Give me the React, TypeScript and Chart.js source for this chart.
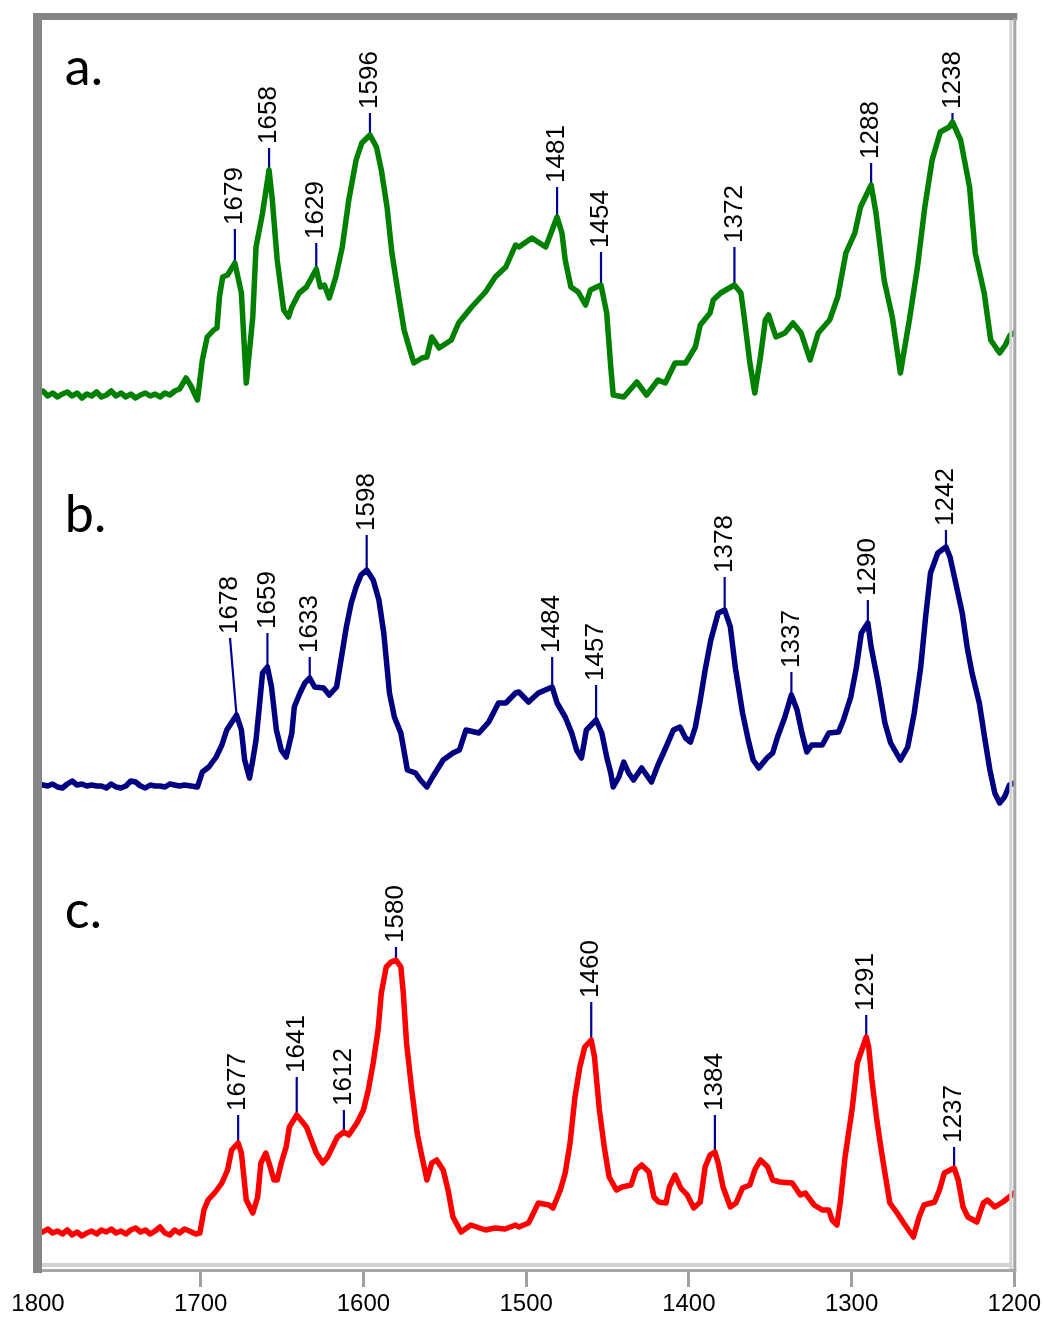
import React, { useEffect, useRef } from "react";
import { Chart, registerables } from "chart.js";

Chart.register(...registerables);

// ---------- x axis ----------
const X_MIN = 1200;
const X_MAX = 1800;
const X_STEP = 100;

// ---------- spectrum a (green) : wavenumber / plotted height ----------
const aWn = [
  1800, 1797, 1794, 1791, 1788, 1785, 1782, 1779, 1776, 1773,
  1770, 1767, 1764, 1761, 1758, 1755, 1752, 1749, 1746, 1743,
  1740, 1737, 1734, 1731, 1728, 1725, 1722, 1719, 1716, 1713,
  1709, 1706, 1702, 1699, 1696, 1692, 1690, 1688.5, 1686.5, 1683.5,
  1679, 1675, 1672, 1668, 1666, 1662, 1658, 1656, 1653, 1649,
  1646, 1644, 1639.5, 1635, 1629, 1626.5, 1624, 1621, 1617, 1613,
  1609, 1604.5, 1601, 1596, 1592, 1589, 1585.5, 1582.5, 1578, 1575,
  1572, 1569, 1564, 1561, 1558, 1553.5, 1546, 1541.5, 1533.5, 1525,
  1519, 1512.5, 1506.5, 1504.5, 1496.5, 1488, 1481, 1478, 1476, 1472.5,
  1468, 1463.5, 1460.5, 1454, 1450.5, 1448, 1446.5, 1440, 1432, 1426,
  1419, 1414.5, 1408.5, 1402, 1396, 1393, 1387, 1385, 1380.5, 1372,
  1368, 1366, 1362.5, 1359.5, 1356, 1353, 1351, 1346.5, 1341, 1336,
  1331, 1325.5, 1320.5, 1313.5, 1308.5, 1303.5, 1298, 1294.5, 1288, 1285,
  1280, 1275, 1270, 1264.5, 1259.5, 1255, 1250.5, 1245.5, 1240, 1238,
  1233, 1227.5, 1224, 1218.5, 1214.5, 1209, 1205.5, 1202.5, 1200,
];
const aVal = [
  876, 879, 874, 877, 873, 876, 878, 874, 877, 872,
  876, 874, 878, 873, 875, 879, 874, 877, 873, 876,
  872, 875, 877, 874, 876, 873, 877, 875, 879, 881,
  892, 884, 870, 910, 933, 940, 942, 973, 993, 995,
  1007, 977, 887, 953, 1023, 1057, 1100, 1070, 1010, 960,
  953, 963, 977, 983, 1001, 983, 985, 972, 993, 1023,
  1070, 1110, 1127, 1135, 1123, 1100, 1063, 1017, 970, 940,
  923, 907, 912, 913, 933, 922, 930, 947, 963, 978,
  993, 1003, 1025, 1023, 1032, 1023, 1053, 1037, 1010, 983,
  978, 965, 980, 985, 957, 903, 875, 873, 888, 875,
  890, 887, 907, 907, 923, 945, 957, 970, 977, 985,
  977, 953, 907, 877, 913, 950, 955, 933, 937, 947,
  937, 910, 937, 950, 973, 1017, 1037, 1063, 1085, 1057,
  990, 953, 897, 950, 1003, 1063, 1110, 1138, 1143, 1148,
  1130, 1083, 1017, 977, 930, 917, 925, 935, 937,
];

// ---------- spectrum b (navy) ----------
const bWn = [
  1800, 1797, 1794, 1791, 1788, 1785, 1782, 1779, 1776, 1773,
  1770, 1767, 1764, 1761, 1758, 1755, 1752, 1749, 1746, 1743,
  1740, 1737, 1734, 1731, 1728, 1725, 1722, 1719, 1716, 1713,
  1710, 1706, 1702, 1699, 1695, 1690.5, 1687, 1684, 1678, 1675,
  1673, 1670, 1668, 1666, 1664, 1662, 1659, 1656.5, 1653.5, 1650.5,
  1647.5, 1644, 1642.5, 1639, 1636, 1633, 1630, 1624.5, 1621, 1616.5,
  1613.5, 1610.5, 1607.5, 1604.5, 1601.5, 1598, 1594, 1590.5, 1587.5, 1584,
  1581, 1577, 1573, 1568, 1565, 1561, 1557.5, 1551, 1545, 1541,
  1537, 1529, 1523, 1517, 1512.5, 1506.5, 1504.5, 1498.5, 1492.5, 1484,
  1481, 1476, 1472, 1469, 1466, 1463, 1457, 1453.5, 1450.5, 1448,
  1446.5, 1443, 1440, 1437, 1434, 1429, 1423, 1419, 1414, 1409.5,
  1405.5, 1402, 1399, 1396, 1393, 1390, 1386.5, 1382, 1378, 1374.5,
  1371.5, 1367, 1363.5, 1360.5, 1357, 1352, 1348.5, 1345.5, 1341, 1337,
  1333.5, 1330.5, 1327.5, 1324.5, 1318, 1314, 1308, 1305, 1300.5, 1297,
  1294, 1290, 1288, 1284, 1279.5, 1276, 1270, 1265.5, 1261.5, 1257.5,
  1254.5, 1251.5, 1247, 1242, 1239.5, 1236, 1232, 1229, 1226, 1221.5,
  1218, 1215, 1212, 1209, 1206, 1203, 1200,
];
const bVal = [
  486, 485, 484, 486, 483, 482, 486, 489, 485, 486,
  484, 485, 484, 484, 482, 486, 483, 482, 484, 489,
  488, 484, 482, 485, 484, 484, 483, 486, 485, 484,
  485, 484, 483, 498, 503, 513, 525, 540, 555, 540,
  510, 492, 510, 530, 563, 597, 603, 583, 540, 520,
  513, 537, 563, 577, 587, 592, 583, 582, 575, 583,
  613, 643, 667, 683, 695, 700, 690, 670, 637, 577,
  553, 537, 500, 497, 490, 483, 493, 510, 517, 520,
  540, 537, 548, 567, 567, 577, 578, 568, 577, 583,
  567, 553, 537, 520, 512, 540, 550, 537, 513, 497,
  483, 493, 508, 497, 490, 502, 488, 505, 523, 540,
  543, 532, 528, 543, 570, 600, 630, 657, 660, 643,
  603, 557, 530, 510, 502, 512, 517, 533, 553, 575,
  560, 537, 518, 525, 525, 537, 538, 550, 573, 603,
  637, 647, 623, 590, 547, 527, 510, 523, 557, 603,
  653, 697, 717, 723, 713, 687, 657, 623, 597, 567,
  530, 500, 477, 467, 473, 485, 487,
];

// ---------- spectrum c (red) ----------
const cWn = [
  1800, 1797, 1794, 1791, 1788, 1785, 1782, 1779, 1776, 1773,
  1770, 1767, 1764, 1761, 1758, 1755, 1752, 1749, 1746, 1743,
  1740, 1737, 1734, 1731, 1728, 1725, 1722, 1719, 1716, 1713,
  1710, 1707, 1703, 1700.5, 1698, 1695.5, 1691, 1687, 1683.5, 1681,
  1677, 1675, 1672, 1668, 1665, 1663, 1660, 1658, 1655, 1653,
  1650.5, 1647.5, 1645.5, 1641, 1638.5, 1635, 1632, 1629, 1625, 1622,
  1619, 1616, 1612, 1609, 1604, 1600, 1597, 1594, 1591, 1589,
  1586, 1583, 1580, 1577, 1575.5, 1573.5, 1570.5, 1567, 1564, 1561,
  1558, 1555, 1551, 1548, 1545, 1540, 1534, 1525, 1519, 1513,
  1506.5, 1504.5, 1498.5, 1492.5, 1486, 1483.5, 1479, 1476, 1473, 1470,
  1467, 1464, 1460, 1458, 1455, 1452, 1449, 1444.5, 1441, 1435.5,
  1432.5, 1429, 1424.5, 1421.5, 1418.5, 1414, 1412, 1408.5, 1405, 1401,
  1397, 1393, 1390, 1387, 1384, 1382, 1379, 1374.5, 1371, 1367,
  1362.5, 1359.5, 1356, 1351.5, 1348.5, 1344, 1336.5, 1331.5, 1328.5, 1323,
  1318, 1314, 1312, 1309, 1307, 1304, 1299.5, 1296.5, 1291, 1289.5,
  1287.5, 1284.5, 1281.5, 1278.5, 1276.5, 1272, 1268, 1265, 1262, 1258.5,
  1255.5, 1249, 1246, 1243, 1237, 1234.5, 1231.5, 1228.5, 1223, 1219,
  1216.5, 1212, 1207, 1201.5, 1200,
];
const cVal = [
  40, 38, 41, 37, 39, 36, 40, 35, 38, 34,
  37, 39, 36, 40, 38, 41, 37, 39, 36, 40,
  42, 38, 40, 36, 39, 43, 37, 35, 40, 37,
  41, 39, 36, 37, 60, 70, 78, 87, 100, 120,
  127, 117, 70, 57, 73, 107, 117, 107, 90, 90,
  107, 123, 143, 155, 150, 143, 130, 117, 107, 113,
  123, 133, 138, 135, 147, 160, 180, 207, 240, 277,
  303, 308, 310, 303, 277, 227, 183, 137, 113, 90,
  107, 110, 100, 80, 53, 38, 45, 40, 42, 41,
  45, 43, 47, 67, 65, 62, 80, 97, 127, 173,
  203, 223, 230, 213, 160, 123, 93, 80, 83, 85,
  100, 105, 98, 73, 68, 67, 83, 95, 82, 75,
  62, 68, 103, 115, 118, 107, 83, 63, 67, 82,
  85, 100, 110, 103, 90, 88, 87, 75, 77, 65,
  60, 60, 50, 45, 67, 113, 163, 207, 233, 223,
  190, 150, 117, 87, 67, 57, 47, 40, 33, 53,
  65, 68, 80, 97, 102, 90, 63, 53, 48, 67,
  70, 63, 68, 75, 77,
];

// ---------- peak labels (text) and height of the top of each marker line ----------
const peakLabelsA = ["1679", "1658", "1629", "1596", "1481", "1454", "1372", "1288", "1238"];
const peakTopsA = [1041, 1122, 1027, 1157, 1083, 1018, 1023, 1107, 1157];
const peakLabelsB = ["1678", "1659", "1633", "1598", "1484", "1457", "1378", "1337", "1290", "1242"];
const peakTopsB = [632, 637, 613, 735, 613, 585, 693, 598, 670, 740];
const peakLabelsC = ["1677", "1641", "1612", "1580", "1460", "1384", "1291", "1237"];
const peakTopsC = [155, 193, 160, 323, 268, 155, 255, 123];
// labels whose marker line leans to a different wavenumber at its top
const peakLeanB: Record<string, number> = { "1678": 1682 };

// ---------- panel letters ----------
const panelLetters = ["a.", "b.", "c."];
const panelBaselines = [1185, 738, 342];
const panelWn = 1783.5;

const Y_MAX = 1257;

const COLORS = ["#008000", "#000080", "#ff0000"];

function toPoints(wn: number[], val: number[]) {
  return wn.map((w, i) => ({ x: w, y: val[i] }));
}

function interp(wn: number[], val: number[], v: number) {
  for (let i = 0; i < wn.length - 1; i++) {
    const a = wn[i];
    const b = wn[i + 1];
    if ((a >= v && v >= b) || (a <= v && v <= b)) {
      if (a === b) return val[i];
      const t = (v - a) / (b - a);
      return val[i] + t * (val[i + 1] - val[i]);
    }
  }
  return val[val.length - 1];
}

const peakSets = [
  { wn: aWn, val: aVal, labels: peakLabelsA, tops: peakTopsA, lean: {} as Record<string, number> },
  { wn: bWn, val: bVal, labels: peakLabelsB, tops: peakTopsB, lean: peakLeanB },
  { wn: cWn, val: cVal, labels: peakLabelsC, tops: peakTopsC, lean: {} as Record<string, number> },
];

const decor = {
  id: "decor",
  beforeDatasetsDraw(chart: any) {
    const { ctx, scales } = chart;
    const xs = scales.x;
    const ys = scales.y;
    ctx.save();
    peakSets.forEach((set) => {
      set.labels.forEach((lab, i) => {
        const wn = Number(lab);
        const bottom = interp(set.wn, set.val, wn);
        const tWn = set.lean[lab] !== undefined ? set.lean[lab] : wn;
        const x0 = xs.getPixelForValue(wn);
        const y0 = ys.getPixelForValue(bottom);
        const x1 = xs.getPixelForValue(tWn);
        const y1 = ys.getPixelForValue(set.tops[i]);
        ctx.strokeStyle = "#000099";
        ctx.lineWidth = 2.2;
        ctx.beginPath();
        ctx.moveTo(x0, y0);
        ctx.lineTo(x1, y1);
        ctx.stroke();
        ctx.save();
        ctx.translate(x1, y1 - 4);
        ctx.rotate(-Math.PI / 2);
        ctx.font = '26px "Liberation Sans", Arial, sans-serif';
        ctx.textAlign = "left";
        ctx.textBaseline = "middle";
        ctx.fillStyle = "#000000";
        ctx.fillText(lab, 0, 0);
        ctx.restore();
      });
    });
    ctx.restore();
  },
  afterDatasetsDraw(chart: any) {
    const { ctx, scales, chartArea } = chart;
    const xs = scales.x;
    const ys = scales.y;
    const { left, right, top, bottom } = chartArea;
    ctx.save();
    // frame: dark top/left, light + grey right/bottom
    ctx.fillStyle = "#858585";
    ctx.fillRect(left - 5, top, 9, bottom - top + 3);
    ctx.fillRect(left - 5, top, right - left + 8, 7);
    ctx.fillStyle = "#d2d2d2";
    ctx.fillRect(right - 5, top + 7, 3, bottom - top - 7);
    ctx.fillRect(left + 4, bottom - 7, right - left - 6, 4);
    ctx.fillStyle = "#a6a6a6";
    ctx.fillRect(right - 1, top + 5, 3, bottom - top - 2);
    ctx.fillRect(left + 4, bottom - 1, right - left - 2, 3);
    // panel letters
    ctx.fillStyle = "#000000";
    ctx.font = '52px Lato, "Open Sans", sans-serif';
    ctx.textAlign = "left";
    ctx.textBaseline = "alphabetic";
    panelLetters.forEach((t, i) => {
      ctx.fillText(t, xs.getPixelForValue(panelWn), ys.getPixelForValue(panelBaselines[i]));
    });
    ctx.restore();
  },
};

export default function App() {
  const ref = useRef<HTMLCanvasElement | null>(null);

  useEffect(() => {
    document.body.style.margin = "0";
    const canvas = ref.current;
    if (!canvas) return;
    const chart = new Chart(canvas, {
      type: "line",
      data: {
        datasets: [
          { data: toPoints(aWn, aVal), borderColor: COLORS[0], borderWidth: 5.5 },
          { data: toPoints(bWn, bVal), borderColor: COLORS[1], borderWidth: 5.5 },
          { data: toPoints(cWn, cVal), borderColor: COLORS[2], borderWidth: 5.5 },
        ],
      },
      options: {
        responsive: false,
        maintainAspectRatio: false,
        animation: false,
        layout: { padding: { left: 38, right: 29, top: 13, bottom: 0 } },
        elements: {
          point: { radius: 0, hoverRadius: 0 },
          line: { tension: 0, borderJoinStyle: "round", borderCapStyle: "round", fill: false },
        },
        plugins: { legend: { display: false }, tooltip: { enabled: false } },
        events: [],
        scales: {
          x: {
            type: "linear",
            reverse: true,
            min: X_MIN,
            max: X_MAX,
            afterFit: (s: any) => {
              s.height = 48;
            },
            border: { display: false },
            grid: {
              display: true,
              drawOnChartArea: false,
              drawTicks: true,
              tickLength: 17,
              tickWidth: 3,
              tickColor: (c: any) => (c.tick && c.tick.value === X_MAX ? "rgba(0,0,0,0)" : "#a0a0a0"),
            },
            ticks: {
              stepSize: X_STEP,
              autoSkip: false,
              maxRotation: 0,
              padding: 3,
              color: "#000000",
              font: { family: '"Liberation Sans", Arial, sans-serif', size: 24 },
              callback: (v: any) => String(v),
            },
          },
          y: { display: false, min: 0, max: Y_MAX },
        },
      },
      plugins: [decor],
    } as any);
    return () => chart.destroy();
  }, []);

  return (
    <div style={{ width: 1044, height: 1318, background: "#ffffff" }}>
      <canvas ref={ref} width={1044} height={1318} style={{ display: "block" }} />
    </div>
  );
}
